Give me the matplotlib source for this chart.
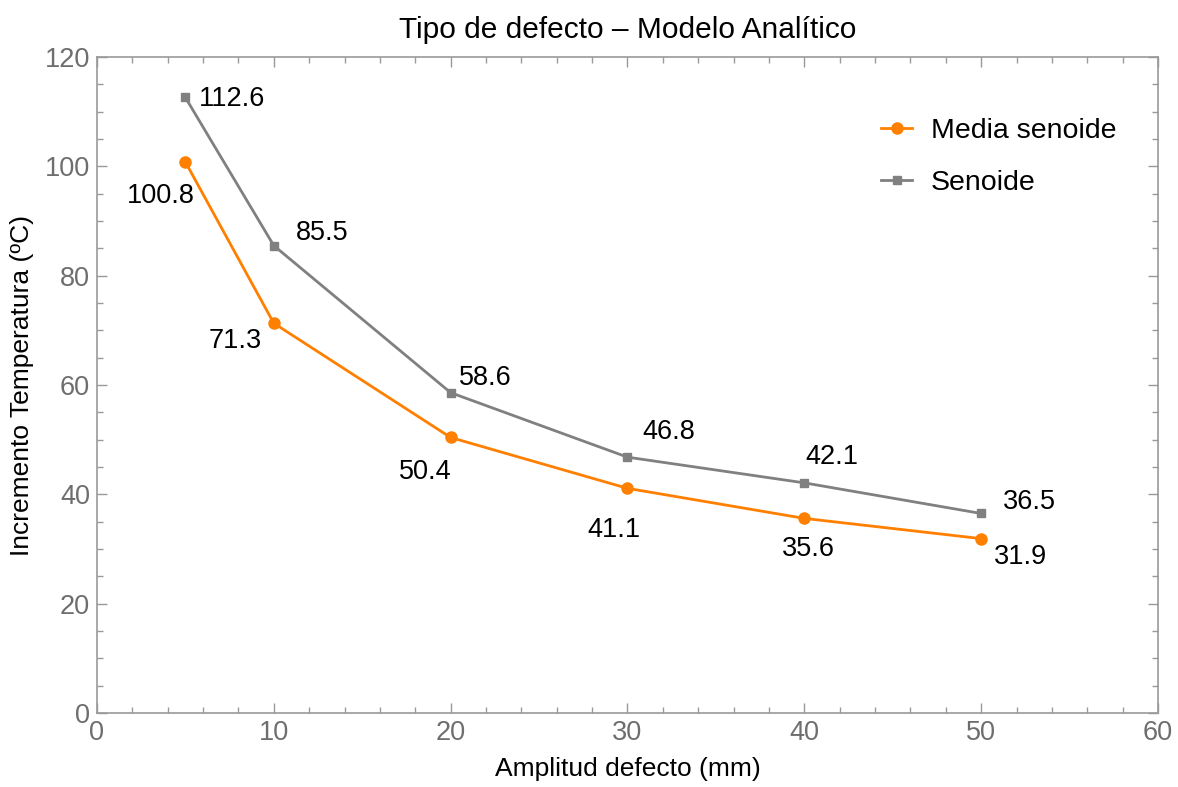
import matplotlib
matplotlib.use("Agg")
import matplotlib.pyplot as plt
from matplotlib.ticker import MultipleLocator

plt.rcParams['font.family'] = ['Liberation Sans', 'DejaVu Sans']

amplitud = [5, 10, 20, 30, 40, 50]
media_senoide = [100.8, 71.3, 50.4, 41.1, 35.6, 31.9]
senoide = [112.6, 85.5, 58.6, 46.8, 42.1, 36.5]

# label offsets in pixels
media_offsets = [(-25, -34), (-39, -18), (-25, -35), (-14, -42), (4, -31), (39, -18)]
senoide_offsets = [(47, -2), (48, 13), (35, 15), (41, 25), (28, 26), (48, 11)]

ORANGE = "#FF8000"
GRAY = "#808080"
AXIS = "#999999"
TICK_TXT = "#6e6e6e"

fig = plt.figure(figsize=(11.78, 7.87), dpi=100)
ax = fig.add_axes([0.0823, 0.094, 0.9007, 0.8336])

ax.plot(amplitud, media_senoide, color=ORANGE, linewidth=2, marker="o",
        markersize=8, label="Media senoide")
ax.plot(amplitud, senoide, color=GRAY, linewidth=2, marker="s",
        markersize=5.5, label="Senoide")

for x, y, off in zip(amplitud, media_senoide, media_offsets):
    ax.annotate(f"{y}", (x, y), xytext=off, textcoords="offset pixels",
                ha="center", va="center", fontsize=19.5)
for x, y, off in zip(amplitud, senoide, senoide_offsets):
    ax.annotate(f"{y}", (x, y), xytext=off, textcoords="offset pixels",
                ha="center", va="center", fontsize=19.5)

ax.set_xlim(0, 60)
ax.set_ylim(0, 120)
ax.xaxis.set_major_locator(MultipleLocator(10))
ax.xaxis.set_minor_locator(MultipleLocator(2))
ax.yaxis.set_major_locator(MultipleLocator(20))
ax.yaxis.set_minor_locator(MultipleLocator(5))
ax.tick_params(which="both", direction="in", top=True, right=True,
               color=AXIS, labelcolor=TICK_TXT, labelsize=19.5)
ax.tick_params(which="major", length=7, width=1, pad=5)
ax.tick_params(which="minor", length=4, width=1)
for spine in ax.spines.values():
    spine.set_color(AXIS)
    spine.set_linewidth(1.2)

ax.set_xlabel("Amplitud defecto (mm)", fontsize=19, labelpad=8)
ax.set_ylabel("Incremento Temperatura (ºC)", fontsize=19, labelpad=8)
ax.set_title("Tipo de defecto – Modelo Analítico", fontsize=21.5, pad=14)

ax.legend(loc="upper right", bbox_to_anchor=(0.985, 0.946), frameon=False,
          fontsize=20.5, handlelength=1.1, handletextpad=0.65,
          labelspacing=0.92)

fig.savefig("out.png", dpi=100)
